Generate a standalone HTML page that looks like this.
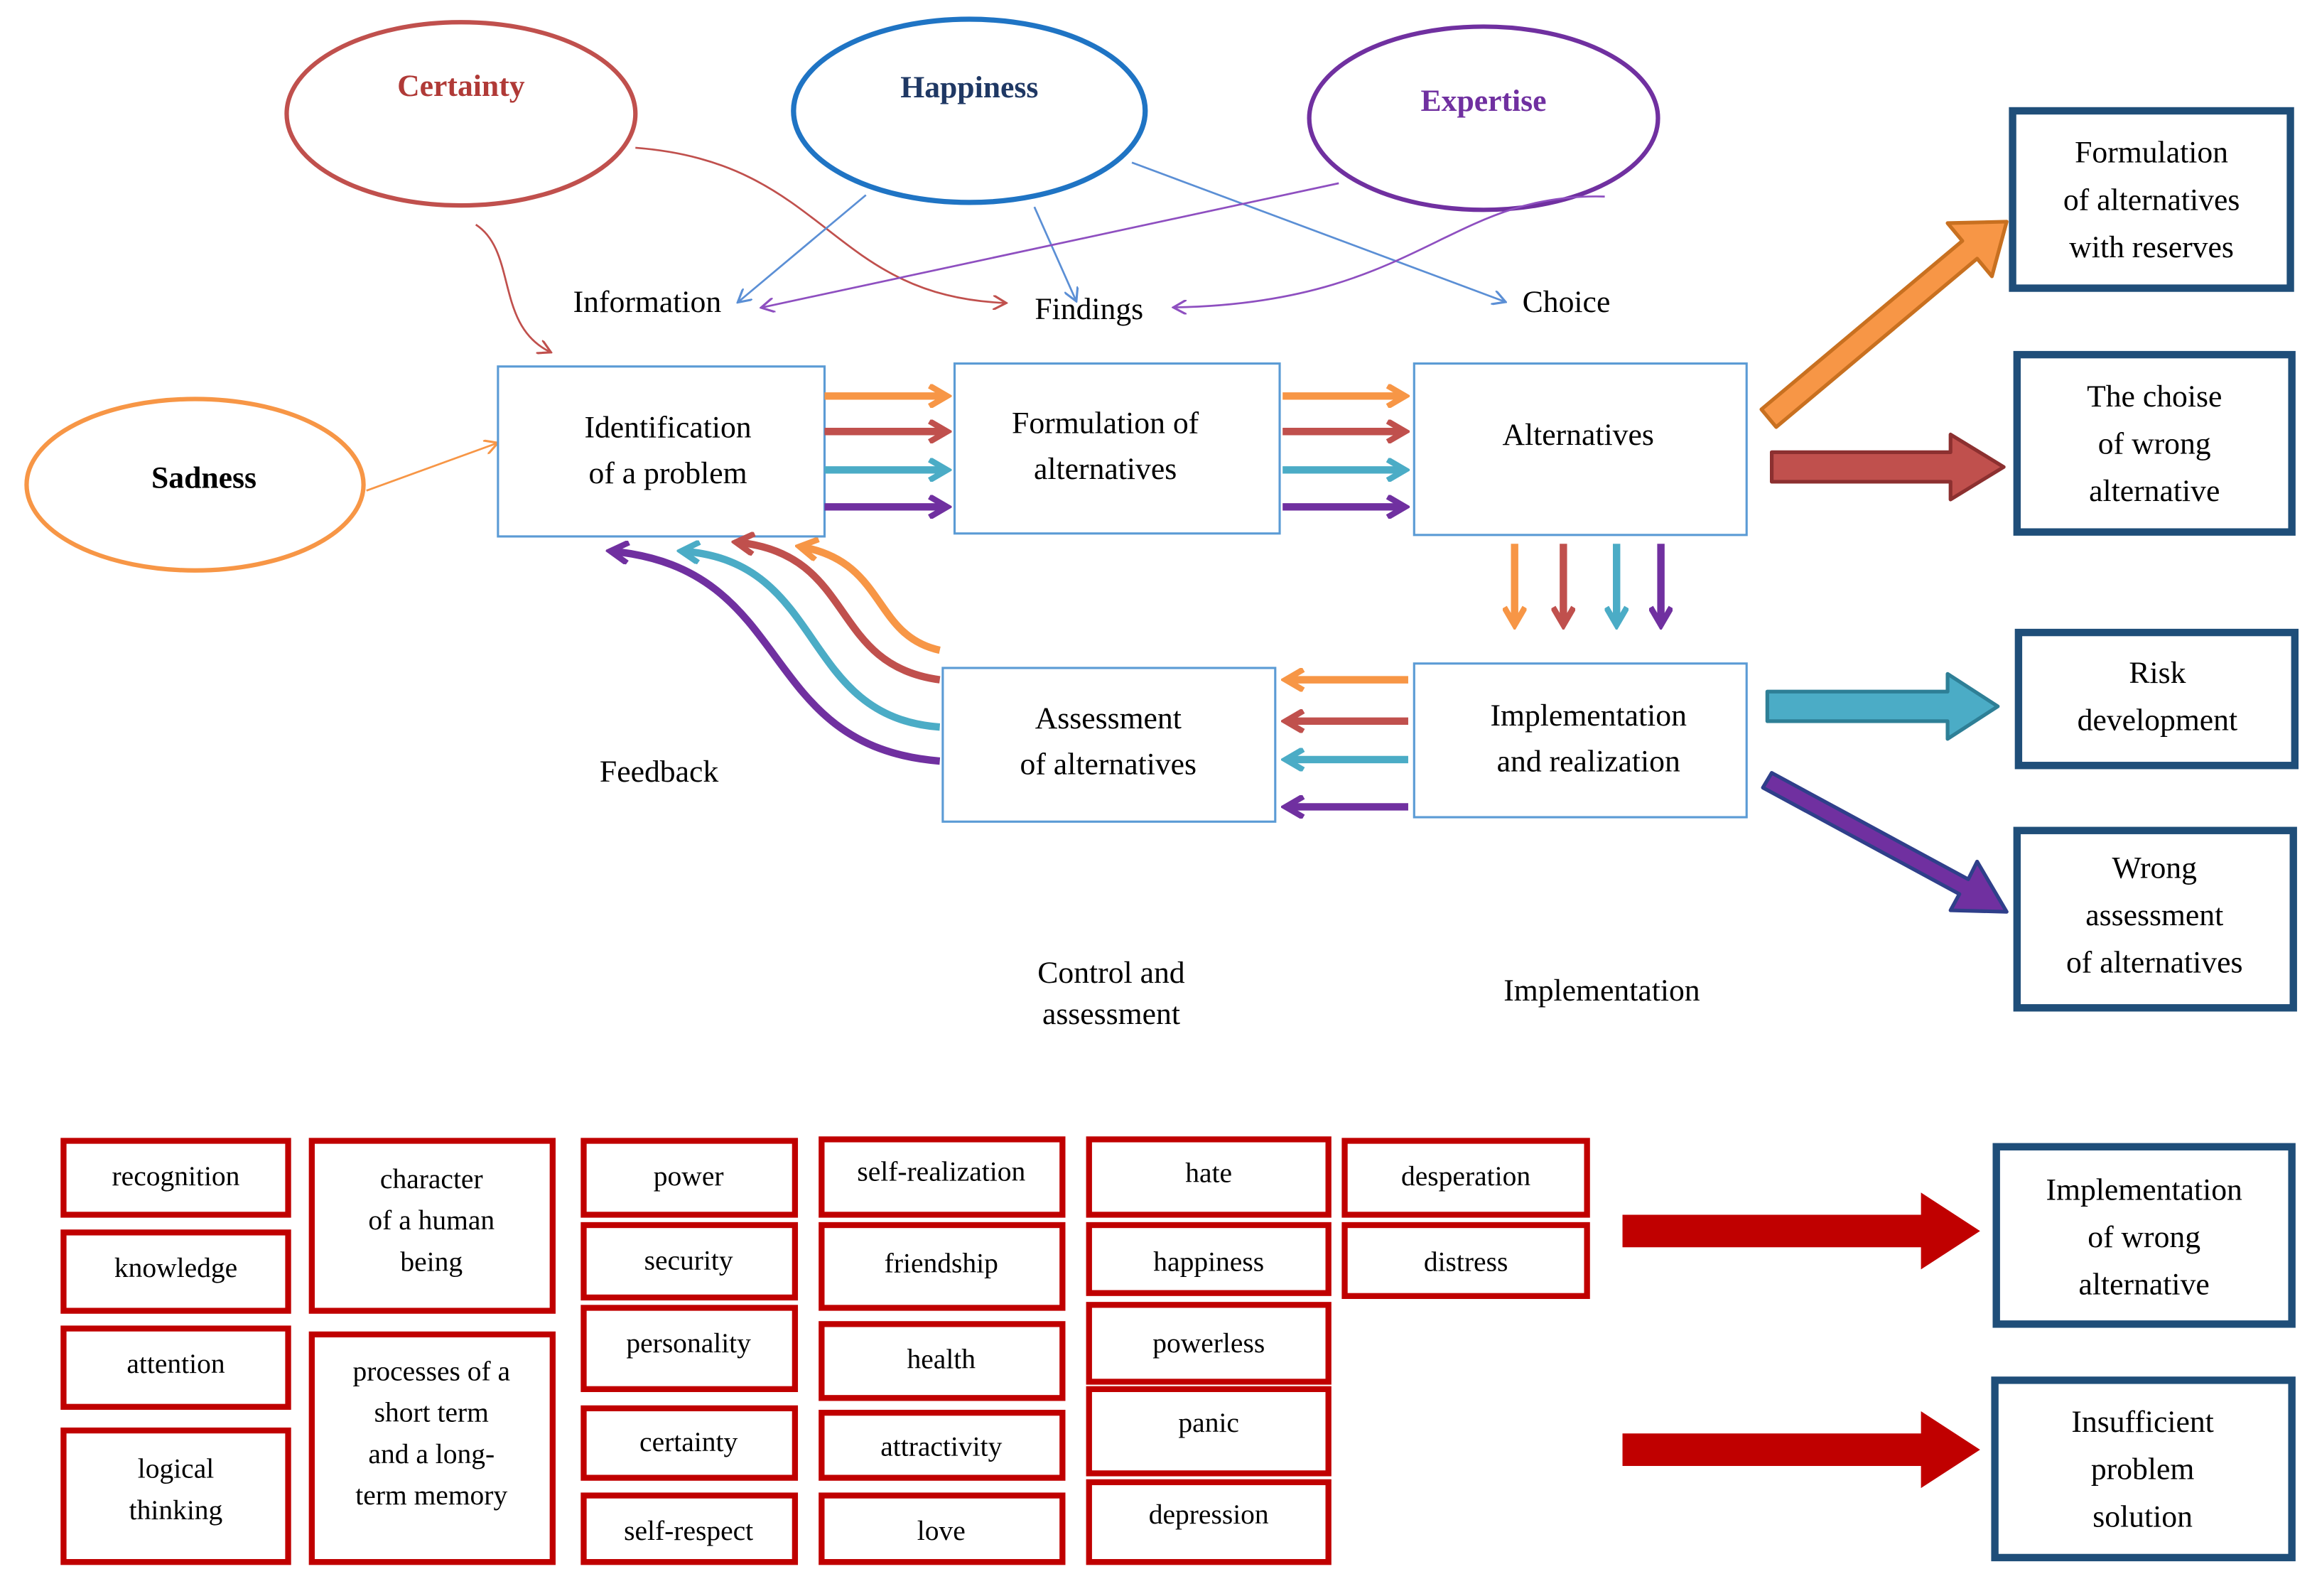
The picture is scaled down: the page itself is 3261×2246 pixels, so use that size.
<!DOCTYPE html>
<html><head><meta charset="utf-8"><style>
html,body{margin:0;padding:0;background:#fff;}
svg{display:block;}
text{font-family:"Liberation Serif",serif;}
</style></head><body>
<svg width="3261" height="2246" viewBox="0 0 1568 1080" preserveAspectRatio="none" xmlns="http://www.w3.org/2000/svg">
<defs>
<marker id="aR" markerWidth="10" markerHeight="10" refX="8" refY="5" orient="auto" markerUnits="userSpaceOnUse"><path d="M0,0 L9,5 L0,10" fill="none" stroke="#c0504d" stroke-width="1.5"/></marker>
<marker id="aB" markerWidth="10" markerHeight="10" refX="8" refY="5" orient="auto" markerUnits="userSpaceOnUse"><path d="M0,0 L9,5 L0,10" fill="none" stroke="#5b8fd5" stroke-width="1.5"/></marker>
<marker id="aP" markerWidth="10" markerHeight="10" refX="8" refY="5" orient="auto" markerUnits="userSpaceOnUse"><path d="M0,0 L9,5 L0,10" fill="none" stroke="#8e4fc0" stroke-width="1.5"/></marker>
<marker id="aO" markerWidth="10" markerHeight="10" refX="8" refY="5" orient="auto" markerUnits="userSpaceOnUse"><path d="M0,0 L9,5 L0,10" fill="none" stroke="#f79646" stroke-width="1.5"/></marker>
<marker id="hO" markerWidth="16" markerHeight="16" refX="12" refY="8" orient="auto" markerUnits="userSpaceOnUse"><path d="M1,1 L13,8 L1,15" fill="none" stroke="#f79646" stroke-width="4"/></marker>
<marker id="hR" markerWidth="16" markerHeight="16" refX="12" refY="8" orient="auto" markerUnits="userSpaceOnUse"><path d="M1,1 L13,8 L1,15" fill="none" stroke="#c0504d" stroke-width="4"/></marker>
<marker id="hT" markerWidth="16" markerHeight="16" refX="12" refY="8" orient="auto" markerUnits="userSpaceOnUse"><path d="M1,1 L13,8 L1,15" fill="none" stroke="#4bacc6" stroke-width="4"/></marker>
<marker id="hP" markerWidth="16" markerHeight="16" refX="12" refY="8" orient="auto" markerUnits="userSpaceOnUse"><path d="M1,1 L13,8 L1,15" fill="none" stroke="#7030a0" stroke-width="4"/></marker>
</defs>

<!-- ellipses -->
<ellipse cx="312" cy="77" rx="118" ry="62" fill="#fff" stroke="#c0504d" stroke-width="3"/>
<text x="312" y="65" font-size="21" font-weight="bold" fill="#b03a37" text-anchor="middle">Certainty</text>
<ellipse cx="656" cy="75" rx="119" ry="62" fill="#fff" stroke="#1f74c4" stroke-width="3.5"/>
<text x="656" y="66" font-size="21" font-weight="bold" fill="#1f3864" text-anchor="middle">Happiness</text>
<ellipse cx="1004" cy="80" rx="118" ry="62" fill="#fff" stroke="#7030a0" stroke-width="3"/>
<text x="1004" y="75" font-size="21" font-weight="bold" fill="#7030a0" text-anchor="middle">Expertise</text>
<ellipse cx="132" cy="328" rx="114" ry="58" fill="#fff" stroke="#f79646" stroke-width="3"/>
<text x="138" y="330" font-size="21" font-weight="bold" fill="#000" text-anchor="middle">Sadness</text>

<!-- thin connectors -->
<path d="M430,100 C560,110 560,200 680,205" fill="none" stroke="#c0504d" stroke-width="1.3" marker-end="url(#aR)"/>
<path d="M322,152 C350,170 335,220 372,238" fill="none" stroke="#c0504d" stroke-width="1.3" marker-end="url(#aR)"/>
<path d="M586,132 L500,204" fill="none" stroke="#5b8fd5" stroke-width="1.3" marker-end="url(#aB)"/>
<path d="M700,140 L728,203" fill="none" stroke="#5b8fd5" stroke-width="1.3" marker-end="url(#aB)"/>
<path d="M766,110 L1018,204" fill="none" stroke="#5b8fd5" stroke-width="1.3" marker-end="url(#aB)"/>
<path d="M906,124 L516,208" fill="none" stroke="#8e4fc0" stroke-width="1.3" marker-end="url(#aP)"/>
<path d="M1086,133 C980,130 960,205 795,208" fill="none" stroke="#8e4fc0" stroke-width="1.3" marker-end="url(#aP)"/>
<path d="M248,332 L336,300" fill="none" stroke="#f79646" stroke-width="1.3" marker-end="url(#aO)"/>

<g font-size="21" fill="#000" text-anchor="middle">
<text x="438" y="211">Information</text>
<text x="737" y="216">Findings</text>
<text x="1060" y="211">Choice</text>
<text x="446" y="529">Feedback</text>
<text x="752" y="665">Control and</text>
<text x="752" y="693">assessment</text>
<text x="1084" y="677">Implementation</text>
</g>

<!-- main boxes -->
<g fill="#fff" stroke="#5b9bd5" stroke-width="1.5">
<rect x="337" y="248" width="221" height="115"/>
<rect x="646" y="246" width="220" height="115"/>
<rect x="957" y="246" width="225" height="116"/>
<rect x="638" y="452" width="225" height="104"/>
<rect x="957" y="449" width="225" height="104"/>
</g>
<g font-size="21" fill="#000" text-anchor="middle">
<text x="452" y="296">Identification</text><text x="452" y="327">of a problem</text>
<text x="748" y="293">Formulation of</text><text x="748" y="324">alternatives</text>
<text x="1068" y="301">Alternatives</text>
<text x="750" y="493">Assessment</text><text x="750" y="524">of alternatives</text>
<text x="1075" y="491">Implementation</text><text x="1075" y="522">and realization</text>
</g>

<!-- colored small arrows -->
<g fill="none" stroke-width="5">
<path d="M558,268 L640,268" stroke="#f79646" marker-end="url(#hO)"/>
<path d="M558,292 L640,292" stroke="#c0504d" marker-end="url(#hR)"/>
<path d="M558,318 L640,318" stroke="#4bacc6" marker-end="url(#hT)"/>
<path d="M558,343 L640,343" stroke="#7030a0" marker-end="url(#hP)"/>
<path d="M868,268 L950,268" stroke="#f79646" marker-end="url(#hO)"/>
<path d="M868,292 L950,292" stroke="#c0504d" marker-end="url(#hR)"/>
<path d="M868,318 L950,318" stroke="#4bacc6" marker-end="url(#hT)"/>
<path d="M868,343 L950,343" stroke="#7030a0" marker-end="url(#hP)"/>
<path d="M1025,368 L1025,422" stroke="#f79646" marker-end="url(#hO)"/>
<path d="M1058,368 L1058,422" stroke="#c0504d" marker-end="url(#hR)"/>
<path d="M1094,368 L1094,422" stroke="#4bacc6" marker-end="url(#hT)"/>
<path d="M1124,368 L1124,422" stroke="#7030a0" marker-end="url(#hP)"/>
<path d="M953,460 L871,460" stroke="#f79646" marker-end="url(#hO)"/>
<path d="M953,488 L871,488" stroke="#c0504d" marker-end="url(#hR)"/>
<path d="M953,514 L871,514" stroke="#4bacc6" marker-end="url(#hT)"/>
<path d="M953,546 L871,546" stroke="#7030a0" marker-end="url(#hP)"/>
<path d="M636,440 C590,430 600,380 542,370" stroke="#f79646" marker-end="url(#hO)"/>
<path d="M636,460 C560,450 580,375 499,367" stroke="#c0504d" marker-end="url(#hR)"/>
<path d="M636,492 C540,485 560,380 462,373" stroke="#4bacc6" marker-end="url(#hT)"/>
<path d="M636,515 C510,505 540,385 414,373" stroke="#7030a0" marker-end="url(#hP)"/>
</g>

<!-- big arrows -->
<g stroke-width="2.5" stroke-linejoin="round">
<polygon points="1192,277 1328,163 1318,151 1358,150 1348,187 1338,175 1202,289" fill="#f79646" stroke="#c87020"/>
<polygon points="1199,306 1320,306 1320,294 1356,316 1320,338 1320,326 1199,326" fill="#c0504d" stroke="#8c3030"/>
<polygon points="1196,468 1318,468 1318,456 1352,478 1318,500 1318,488 1196,488" fill="#4bacc6" stroke="#2e7f96"/>
<polygon points="1199,523 1332,595 1338,583 1358,617 1320,616 1326,605 1193,533" fill="#7030a0" stroke="#2f3f8a"/>
<polygon points="1098,822 1300,822 1300,807 1340,833 1300,859 1300,844 1098,844" fill="#c00000"/>
<polygon points="1098,970 1300,970 1300,955 1340,981 1300,1007 1300,992 1098,992" fill="#c00000"/>
</g>

<!-- right boxes -->
<g fill="#fff" stroke="#1f4e79" stroke-width="5">
<rect x="1362" y="75" width="188" height="120"/>
<rect x="1365" y="240" width="186" height="120"/>
<rect x="1366" y="428" width="187" height="90"/>
<rect x="1365" y="562" width="187" height="120"/>
<rect x="1351" y="776" width="200" height="120"/>
<rect x="1350" y="934" width="201" height="120"/>
</g>
<g font-size="21" fill="#000" text-anchor="middle">
<text x="1456" y="110">Formulation</text><text x="1456" y="142">of alternatives</text><text x="1456" y="174">with reserves</text>
<text x="1458" y="275">The choise</text><text x="1458" y="307">of wrong</text><text x="1458" y="339">alternative</text>
<text x="1460" y="462">Risk</text><text x="1460" y="494">development</text>
<text x="1458" y="594">Wrong</text><text x="1458" y="626">assessment</text><text x="1458" y="658">of alternatives</text>
<text x="1451" y="812">Implementation</text><text x="1451" y="844">of wrong</text><text x="1451" y="876">alternative</text>
<text x="1450" y="969">Insufficient</text><text x="1450" y="1001">problem</text><text x="1450" y="1033">solution</text>
</g>

<!-- bottom red boxes -->
<g fill="#fff" stroke="#c00000" stroke-width="4">
<rect x="43" y="772" width="152" height="50"/>
<rect x="43" y="834" width="152" height="53"/>
<rect x="43" y="899" width="152" height="53"/>
<rect x="43" y="968" width="152" height="89"/>
<rect x="211" y="772" width="163" height="115"/>
<rect x="211" y="903" width="163" height="154"/>
<rect x="395" y="772" width="143" height="50"/>
<rect x="395" y="829" width="143" height="49"/>
<rect x="395" y="885" width="143" height="55"/>
<rect x="395" y="953" width="143" height="47"/>
<rect x="395" y="1012" width="143" height="45"/>
<rect x="556" y="771" width="163" height="51"/>
<rect x="556" y="829" width="163" height="56"/>
<rect x="556" y="896" width="163" height="50"/>
<rect x="556" y="956" width="163" height="44"/>
<rect x="556" y="1012" width="163" height="45"/>
<rect x="737" y="771" width="162" height="51"/>
<rect x="737" y="829" width="162" height="46"/>
<rect x="737" y="883" width="162" height="52"/>
<rect x="737" y="940" width="162" height="57"/>
<rect x="737" y="1003" width="162" height="54"/>
<rect x="910" y="772" width="164" height="50"/>
<rect x="910" y="829" width="164" height="48"/>
</g>
<g font-size="19" fill="#000" text-anchor="middle">
<text x="119" y="802">recognition</text>
<text x="119" y="864">knowledge</text>
<text x="119" y="929">attention</text>
<text x="119" y="1000">logical</text><text x="119" y="1028">thinking</text>
<text x="292" y="804">character</text><text x="292" y="832">of a human</text><text x="292" y="860">being</text>
<text x="292" y="934">processes of a</text><text x="292" y="962">short term</text><text x="292" y="990">and a long-</text><text x="292" y="1018">term memory</text>
<text x="466" y="802">power</text>
<text x="466" y="859">security</text>
<text x="466" y="915">personality</text>
<text x="466" y="982">certainty</text>
<text x="466" y="1042">self-respect</text>
<text x="637" y="799">self-realization</text>
<text x="637" y="861">friendship</text>
<text x="637" y="926">health</text>
<text x="637" y="985">attractivity</text>
<text x="637" y="1042">love</text>
<text x="818" y="800">hate</text>
<text x="818" y="860">happiness</text>
<text x="818" y="915">powerless</text>
<text x="818" y="969">panic</text>
<text x="818" y="1031">depression</text>
<text x="992" y="802">desperation</text>
<text x="992" y="860">distress</text>
</g>
</svg>
</body></html>
